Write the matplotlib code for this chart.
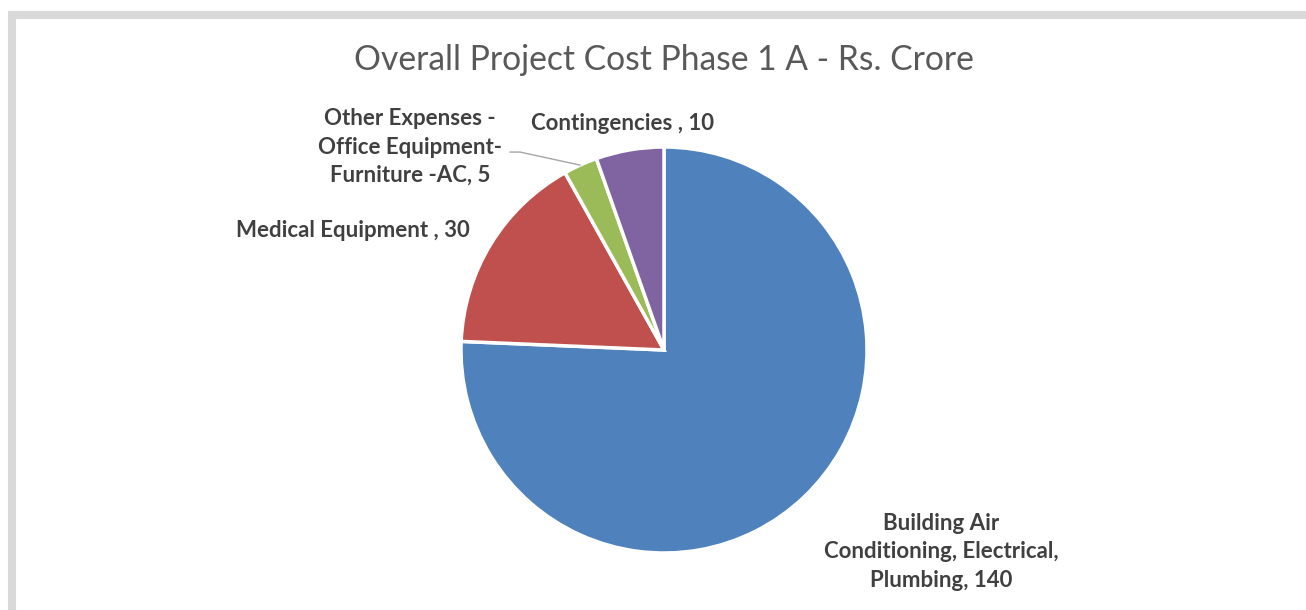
import matplotlib
matplotlib.use("Agg")
import matplotlib.pyplot as plt
from matplotlib.patches import Rectangle

categories = ["Building Air\nConditioning, Electrical,\nPlumbing", "Medical Equipment ",
              "Other Expenses -\nOffice Equipment-\nFurniture -AC", "Contingencies "]
values = [140, 30, 5, 10]
colors = ["#4f81bd", "#c0504d", "#9bbb59", "#8064a2"]
title = "Overall Project Cost Phase 1 A - Rs. Crore"

W, H = 1306, 610
fig = plt.figure(figsize=(W / 100, H / 100), dpi=100)
fig.patch.set_facecolor("white")

# outer frame
fig.patches.append(Rectangle((12 / W, -0.2), 2, (1 - 15 / H) + 0.2, transform=fig.transFigure,
                             fill=False, edgecolor="#d9d9d9", linewidth=5.8, zorder=0))

cx, cy, r = 664, H - 350, 203
ax = fig.add_axes([(cx - r) / W, (cy - r) / H, 2 * r / W, 2 * r / H])
ax.pie(values, colors=colors, startangle=90, counterclock=False, radius=1,
       wedgeprops=dict(edgecolor="white", linewidth=2.5))
ax.set_xlim(-1, 1)
ax.set_ylim(-1, 1)
ax.set_aspect("equal")
ax.axis("off")

lab_pos = [(1.365, -0.995), (-1.532, 0.591), (-1.251, 1.0), (-0.202, 1.118)]
for cat, v, (x, y) in zip(categories, values, lab_pos):
    ax.text(x, y, f"{cat}, {v}", ha="center", va="center", fontsize=16,
            fontweight="bold", color="#404040", family="Lato", linespacing=1.45,
            clip_on=False)

ax.plot([-0.758, -0.709, -0.414], [0.975, 0.975, 0.911], color="#a6a6a6", lw=1.0,
        clip_on=False)

fig.text(664 / W, 1 - 60 / H, title, ha="center", va="center", fontsize=24.2,
         color="#595959", family="Lato")

fig.savefig("out.png", dpi=100)
